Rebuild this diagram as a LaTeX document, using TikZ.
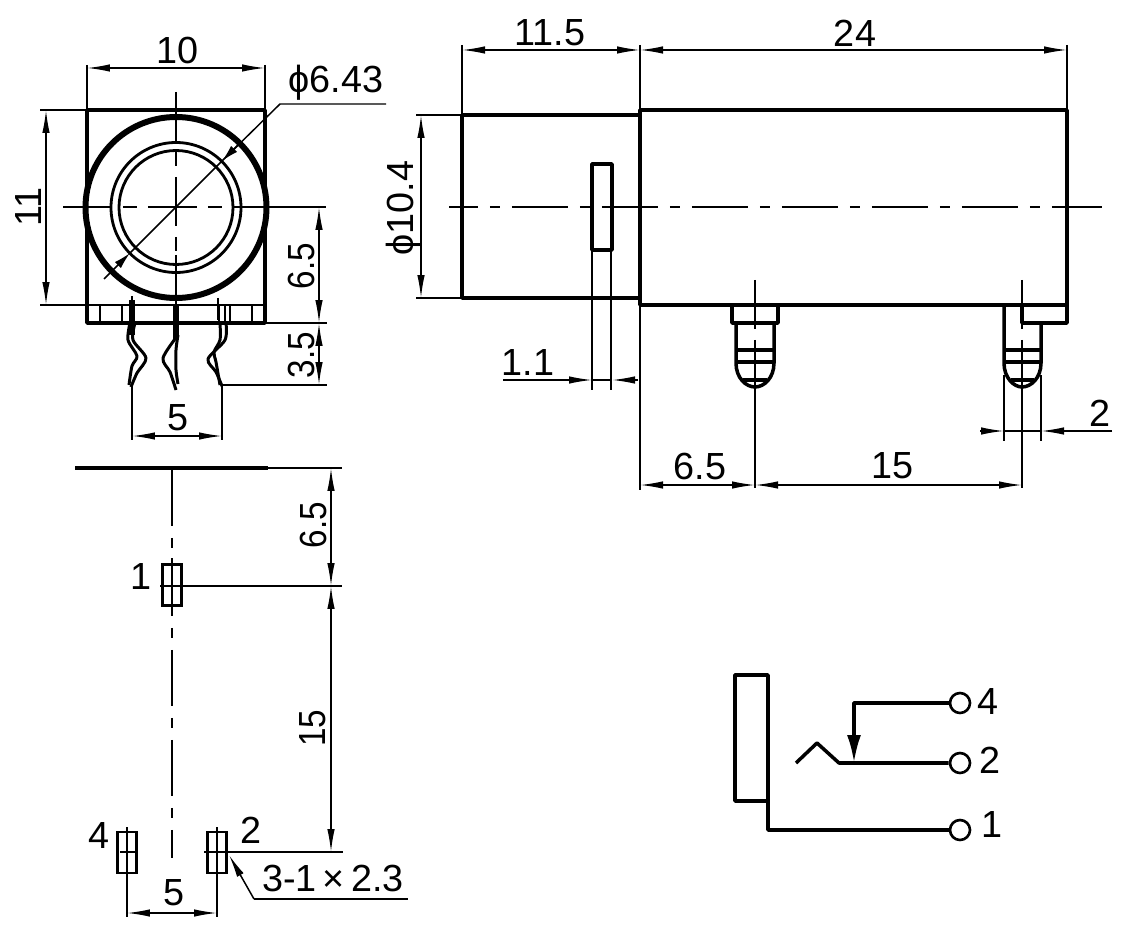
\documentclass[tikz,border=0pt]{standalone}
\usepackage{fontspec}
\setmainfont{Liberation Sans}
\usepackage{tikz}
\usetikzlibrary{arrows.meta}
\tikzset{outline/.style={line width=2pt, line join=round}}
\tikzset{thinline/.style={line width=0.85pt}}
\tikzset{dimline/.style={thinline, {Latex[length=0.46cm,width=0.15cm]}-{Latex[length=0.46cm,width=0.15cm]}}}
\tikzset{tipline/.style={thinline, -{Latex[length=0.46cm,width=0.15cm]}}}
\tikzset{shorttip/.style={thinline, -{Latex[length=0.34cm,width=0.17cm]}}}
\tikzset{axisfront/.style={thinline, dash pattern=on 0.98cm off 0.22cm on 0.28cm off 0.22cm}}
\tikzset{axisside/.style={thinline, dash pattern=on 1.12cm off 0.24cm on 0.2cm off 0.24cm}}
\tikzset{dimtext/.style={inner sep=0pt, font=\fontsize{21.5}{22}\selectfont}}
\tikzset{sidetext/.style={dimtext, rotate=90, xscale=0.88}}
\tikzset{padbox/.style={draw, line width=1.6pt, minimum width=0.38cm, minimum height=0.82cm, inner sep=0pt}}
\tikzset{terminal/.style={draw, circle, line width=1.5pt, minimum size=0.4cm, inner sep=0pt}}
\tikzset{pinedge/.style={line width=1.7pt, line join=round}}
\begin{document}
\begin{tikzpicture}[x=0.02cm,y=-0.02cm]
    \useasboundingbox (0,0) rectangle (1133,939);
    % front view
    \draw[outline] (87,305) -- (87,110) -- (265,110) -- (265,323) -- (87,323) -- (87,305);
    \draw[line width=3.4pt,fill=white] (176,207.5) circle (90.5);
    \draw[line width=1.6pt] (176,207.5) circle (65);
    \draw[line width=1.6pt] (176,207.5) circle (57);
    \draw[axisfront] (63,207) -- (243,207);
    \draw[thinline] (243,207) -- (326,207);
    \draw[axisfront] (176,92) -- (176,255);
    \draw[thinline] (176,255) -- (176,323);
    \draw[thinline] (40,110) -- (87,110);
    \draw[thinline] (40,305) -- (265,305);
    \foreach \xtab in {100,122,230,252}
      \draw[line width=1.3pt] (\xtab,305) -- (\xtab,323);
    \draw[dimline] (46,110) -- (46,305);
    \node[dimtext,rotate=90] (widelabel) at (29,207) {11};
    \draw[thinline] (87,65) -- (87,110);
    \draw[thinline] (265,65) -- (265,110);
    \draw[dimline] (87,68) -- (265,68);
    \node[dimtext] (toplabel) at (178,50) {10};
    \draw[thinline] (386,104) -- (280,104) -- (222,161) -- (130,253);
    \draw[shorttip] (238,145) -- (222,161);
    \draw[shorttip] (104,279) -- (130,253);
    \node[dimtext] (borelabel) at (336,83) {ϕ6.43};
    % front pins
    \fill (128.5,300) rectangle (135,335);
    \draw[pinedge] plot[smooth] coordinates {(130,323) (128,340) (137,356) (132,366) (129,385)};
    \draw[pinedge] plot[smooth] coordinates {(135,323) (133,340) (146,358) (137,373) (131,387)};
    \draw[thinline] (132,296) -- (132,305);
    \fill (173,305) rectangle (179,340);
    \draw[pinedge] plot[smooth] coordinates {(178,335) (163,358) (170,372) (176,390)};
    \draw[pinedge] plot[smooth] coordinates {(178,335) (176,350) (176,370) (178,384)};
    \fill (218,305) rectangle (220,323);
    \draw[thinline] (218,298) -- (218,320);
    \fill (224,305) rectangle (226,323);
    \draw[pinedge] plot[smooth] coordinates {(220,323) (220,340) (214,352) (216,362) (220,385)};
    \draw[pinedge] plot[smooth] coordinates {(226,323) (225,340) (208,359) (216,372) (222,386)};
    \draw[thinline] (265,323) -- (327,323);
    \draw[thinline] (222,385) -- (327,385);
    \draw[thinline] (132,385) -- (132,440);
    \draw[thinline] (222,385) -- (222,440);
    \draw[dimline] (319,207) -- (319,323);
    \draw[dimline] (319,323) -- (319,385);
    \draw[dimline] (132,436) -- (222,436);
    \node[sidetext] (pinlabel) at (301,266) {6.5};
    \node[sidetext] (taillabel) at (301,355) {3.5};
    \node[dimtext] (gaplabel) at (178,418) {5};
    % side view
    \draw[outline] (640,115) -- (462,115) -- (462,298) -- (640,298);
    \draw[outline] (640,305) -- (640,110) -- (1067,110) -- (1067,305) -- cycle;
    \draw[outline] (592,164) rectangle (612,250);
    \draw[axisside,dash phase=0.54cm] (449,207) -- (1102,207);
    \draw[thinline] (462,45) -- (462,115);
    \draw[thinline] (640,45) -- (640,110);
    \draw[thinline] (1067,45) -- (1067,110);
    \draw[thinline] (640,305) -- (640,490);
    \draw[dimline] (462,50) -- (640,50);
    \draw[dimline] (640,50) -- (1067,50);
    \node[dimtext] (bodylabel) at (550,33) {11.5};
    \node[dimtext] (lengthlabel) at (855,33) {24};
    \draw[thinline] (416,115) -- (462,115);
    \draw[thinline] (416,298) -- (462,298);
    \draw[dimline] (421,115) -- (421,298);
    \node[dimtext,rotate=90] (dialabel) at (404,208) {ϕ10.4};
    \draw[thinline] (592,250) -- (592,390);
    \draw[thinline] (611,250) -- (611,390);
    \draw[tipline] (503,380) -- (592,380);
    \draw[tipline] (638,380) -- (612,380);
    \draw[thinline] (592,380) -- (612,380);
    \node[dimtext] (slotlabel) at (528,363) {1.1};
    % side pins
    \draw[outline] (732,305) -- (732,323) -- (778,323) -- (778,305);
    \draw[outline] (736,323) -- (736,363) .. controls (736,378) and (746,387) .. (755,387) .. controls (764,387) and (774,378) .. (774,363) -- (774,323);
    \draw[outline] (736,350) -- (774,350);
    \draw[outline] (736,362) -- (774,362);
    \draw[outline] (743,380) -- (767,380);
    \draw[outline] (1004,305) -- (1004,363) .. controls (1004,378) and (1014,387) .. (1022,387) .. controls (1031,387) and (1041,378) .. (1041,363) -- (1041,323);
    \draw[outline] (1022,305) -- (1022,323) -- (1067,323) -- (1067,305);
    \draw[outline] (1004,350) -- (1041,350);
    \draw[outline] (1004,362) -- (1041,362);
    \draw[outline] (1011,380) -- (1034,380);
    \foreach \xpin in {755,1022} {
      \draw[thinline] (\xpin,280) -- (\xpin,329);
      \draw[thinline] (\xpin,340) -- (\xpin,488);
    }
    \draw[thinline] (1004,375) -- (1004,441);
    \draw[thinline] (1041,375) -- (1041,441);
    \draw[tipline] (980,431) -- (1004,431);
    \draw[tipline] (1112,431) -- (1041,431);
    \draw[thinline] (1004,431) -- (1041,431);
    \node[dimtext] (pinwidth) at (1100,413) {2};
    \draw[dimline] (640,485) -- (755,485);
    \draw[dimline] (755,485) -- (1022,485);
    \node[dimtext] (firstpin) at (700,466) {6.5};
    \node[dimtext] (secondpin) at (892,466) {15};
    % footprint
    \draw[outline] (75,468) -- (268,468);
    \draw[thinline] (268,468) -- (342,468);
    \draw[axisside] (172,470) -- (172,858);
    \node[padbox] (padone) at (172,585) {};
    \node[padbox] (padfour) at (127,852.5) {};
    \node[padbox] (padtwo) at (217,852.5) {};
    \draw[thinline] (172,558) -- (172,612);
    \draw[thinline] (127,827) -- (127,917);
    \draw[thinline] (217,827) -- (217,917);
    \draw[thinline] (120,852) -- (137,852);
    \draw[thinline] (204,852) -- (343,852);
    \draw[thinline] (160,586) -- (342,586);
    \draw[dimline] (331,468) -- (331,586);
    \draw[dimline] (331,586) -- (331,852);
    \draw[dimline] (127,913) -- (217,913);
    \node[dimtext] (labelone) at (141,577) {1};
    \node[dimtext] (labelfour) at (99,836) {4};
    \node[dimtext] (labeltwo) at (251,830) {2};
    \node[sidetext] (rowone) at (313,525) {6.5};
    \node[sidetext] (rowtwo) at (313,728) {15};
    \node[dimtext] (rowgap) at (174,893) {5};
    \node[dimtext] (padsize) at (333,878) {3-1\,×\,2.3};
    \draw[tipline] (254,899) -- (229,855);
    \draw[thinline] (254,899) -- (408,899);
    % schematic
    \draw[outline] (735,675) rectangle (768,801);
    \node[terminal] (termfour) at (960,703) {};
    \node[terminal] (termtwo) at (960,763) {};
    \node[terminal] (termone) at (960,830) {};
    \draw[outline] (termone) -- (768,830) -- (768,801);
    \draw[outline] (termtwo) -- (839,763) -- (817,743) -- (796,763);
    \draw[outline,-{Latex[length=0.56cm,width=0.28cm]}] (termfour) -- (854,703) -- (854,763);
    \node[dimtext] (schemfour) at (988,702) {4};
    \node[dimtext] (schemtwo) at (990,760) {2};
    \node[dimtext] (schemone) at (992,825) {1};
\end{tikzpicture}
\end{document}
